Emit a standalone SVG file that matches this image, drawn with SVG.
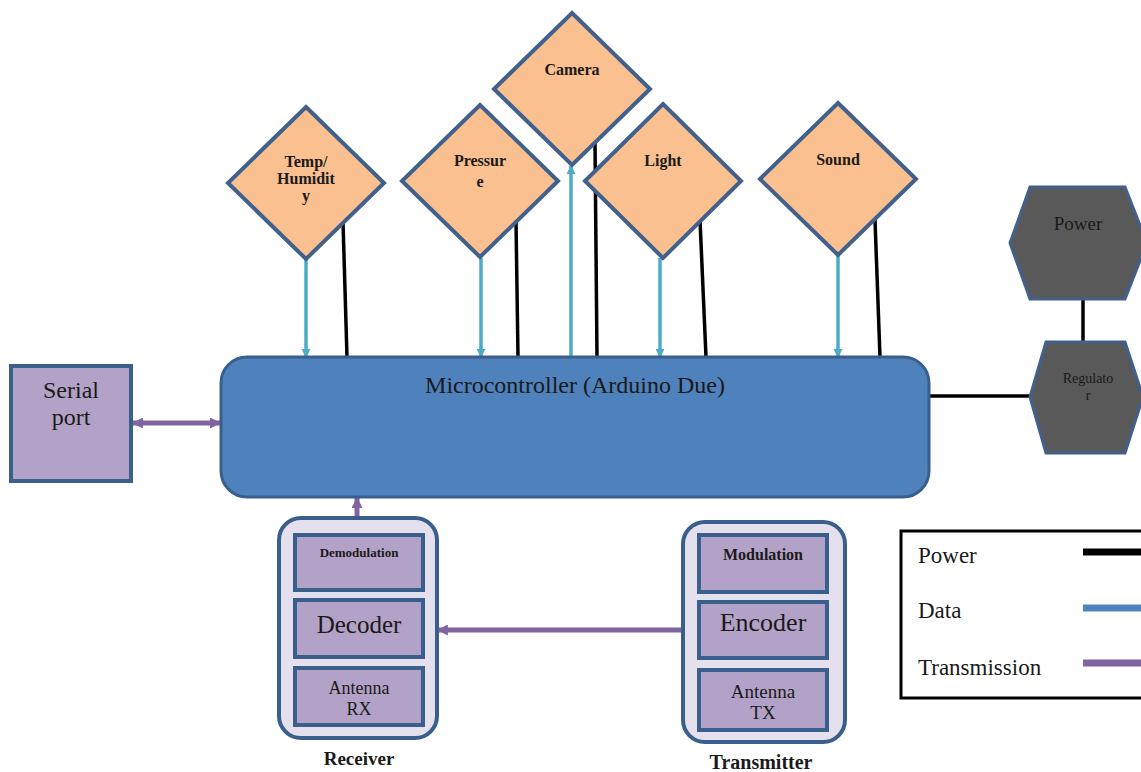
<svg xmlns="http://www.w3.org/2000/svg" width="1141" height="772" viewBox="0 0 1141 772">
<style>
text{font-family:"Liberation Serif","Times New Roman",serif;fill:#1a1a1a;text-anchor:middle}
.dia{fill:#fac090;stroke:#41618c;stroke-width:4}
.lab{font-size:16px;font-weight:bold}
.mc{fill:#4f81bd;stroke:#3a5f8c;stroke-width:3}
.lav{fill:#b3a2c7;stroke:#3a5f8c;stroke-width:4}
.outer{fill:#e5e0ee;stroke:#3a5f8c;stroke-width:4}
.hex{fill:#595959;stroke:#41618c;stroke-width:3}
.data{stroke:#4bacc6;stroke-width:3.5;fill:none}
.pwr{stroke:#000;stroke-width:3.5;fill:none}
.tx{stroke:#8064a2;stroke-width:5;fill:none}
</style>
<defs>
<marker id="ad" viewBox="0 0 10 10" refX="9" refY="5" markerWidth="9" markerHeight="9" markerUnits="userSpaceOnUse" orient="auto"><path d="M0,0 L10,5 L0,10 z" fill="#4bacc6"/></marker>
<marker id="at" viewBox="0 0 10 10" refX="9" refY="5" markerWidth="11" markerHeight="11" markerUnits="userSpaceOnUse" orient="auto-start-reverse"><path d="M0,0 L10,5 L0,10 z" fill="#8064a2"/></marker>
</defs>
<rect width="1141" height="772" fill="#fff"/>

<g id="connectors">
<line class="data" x1="306" y1="259" x2="306" y2="357" marker-end="url(#ad)"/>
<line class="pwr" x1="343" y1="222" x2="347" y2="357"/>
<line class="data" x1="481" y1="258" x2="481" y2="357" marker-end="url(#ad)"/>
<line class="pwr" x1="516" y1="221" x2="518" y2="357"/>
<line class="data" x1="571" y1="357" x2="571" y2="166" marker-end="url(#ad)"/>
<line class="pwr" x1="595" y1="142" x2="597" y2="357"/>
<line class="data" x1="660" y1="258" x2="660" y2="357" marker-end="url(#ad)"/>
<line class="pwr" x1="700" y1="220" x2="706" y2="357"/>
<line class="data" x1="838" y1="255" x2="838" y2="357" marker-end="url(#ad)"/>
<line class="pwr" x1="875" y1="220" x2="880" y2="357"/>
<line class="pwr" x1="1083" y1="299" x2="1083" y2="342" stroke-width="5"/>
<line class="pwr" x1="929" y1="396" x2="1030" y2="396"/>
<line class="tx" x1="133" y1="423" x2="220" y2="423" marker-start="url(#at)" marker-end="url(#at)"/>
<line class="tx" x1="357" y1="518" x2="357" y2="498" marker-end="url(#at)"/>
<line class="tx" x1="683" y1="630" x2="438" y2="630" marker-end="url(#at)"/>
</g>

<g id="temp"><polygon class="dia" points="306,107 384,183 306,259 228,183"/>
<text class="lab" x="306" y="167" font-size="14">Temp/</text><text class="lab" x="306" y="184">Humidit</text><text class="lab" x="306" y="201">y</text></g>
<g id="pressure"><polygon class="dia" points="480,105 558,181 480,257 402,181"/>
<text class="lab" x="480" y="166">Pressur</text><text class="lab" x="480" y="187">e</text></g>
<g id="camera"><polygon class="dia" points="572,13 650,89 572,165 494,89"/>
<text class="lab" x="572" y="75">Camera</text></g>
<g id="light"><polygon class="dia" points="663,104 741,181 663,258 585,181"/>
<text class="lab" x="663" y="166">Light</text></g>
<g id="sound"><polygon class="dia" points="838,103 916,179 838,255 760,179"/>
<text class="lab" x="838" y="165">Sound</text></g>

<g id="micro"><rect class="mc" x="221" y="357" width="708" height="140" rx="26"/>
<text x="575" y="393" font-size="24">Microcontroller (Arduino Due)</text></g>

<g id="serial"><rect class="lav" x="11" y="366" width="120" height="115"/>
<text x="71" y="398" font-size="24">Serial</text><text x="71" y="425" font-size="24">port</text></g>

<g id="power"><polygon class="hex" points="1010,243 1030,187 1125,187 1147,243 1125,299 1030,299"/>
<text x="1078" y="230" font-size="19">Power</text></g>
<g id="regulator"><polygon class="hex" points="1030,397 1046,342 1125,342 1143,397 1125,453 1046,453"/>
<text x="1088" y="383" font-size="14">Regulato</text><text x="1088" y="400" font-size="14">r</text></g>

<g id="receiver"><rect class="outer" x="279" y="518" width="158" height="220" rx="22"/>
<rect class="lav" x="295" y="535" width="128" height="55"/>
<rect class="lav" x="295" y="600" width="128" height="57"/>
<rect class="lav" x="295" y="668" width="128" height="57"/>
<text x="359" y="557" font-size="13" font-weight="bold">Demodulation</text>
<text x="359" y="633" font-size="25">Decoder</text>
<text x="359" y="694" font-size="18">Antenna</text><text x="359" y="715" font-size="18">RX</text>
<text x="359" y="765" font-size="19" font-weight="bold">Receiver</text></g>

<g id="transmitter"><rect class="outer" x="683" y="522" width="162" height="220" rx="22"/>
<rect class="lav" x="699" y="535" width="128" height="57"/>
<rect class="lav" x="699" y="602" width="128" height="56"/>
<rect class="lav" x="699" y="670" width="128" height="60"/>
<text x="763" y="560" font-size="16" font-weight="bold">Modulation</text>
<text x="763" y="631" font-size="26">Encoder</text>
<text x="763" y="698" font-size="19">Antenna</text><text x="763" y="719" font-size="19">TX</text>
<text x="761" y="769" font-size="20" font-weight="bold">Transmitter</text></g>

<g id="legend"><rect x="901" y="531" width="250" height="167" fill="#fff" stroke="#000" stroke-width="3"/>
<text x="918" y="563" font-size="23" style="text-anchor:start">Power</text>
<text x="918" y="618" font-size="23" style="text-anchor:start">Data</text>
<text x="918" y="675" font-size="23" style="text-anchor:start">Transmission</text>
<line x1="1083" y1="552" x2="1141" y2="552" stroke="#000" stroke-width="7"/>
<line x1="1083" y1="608" x2="1141" y2="608" stroke="#4f81bd" stroke-width="7"/>
<line x1="1083" y1="663" x2="1141" y2="663" stroke="#8064a2" stroke-width="7"/></g>
</svg>
